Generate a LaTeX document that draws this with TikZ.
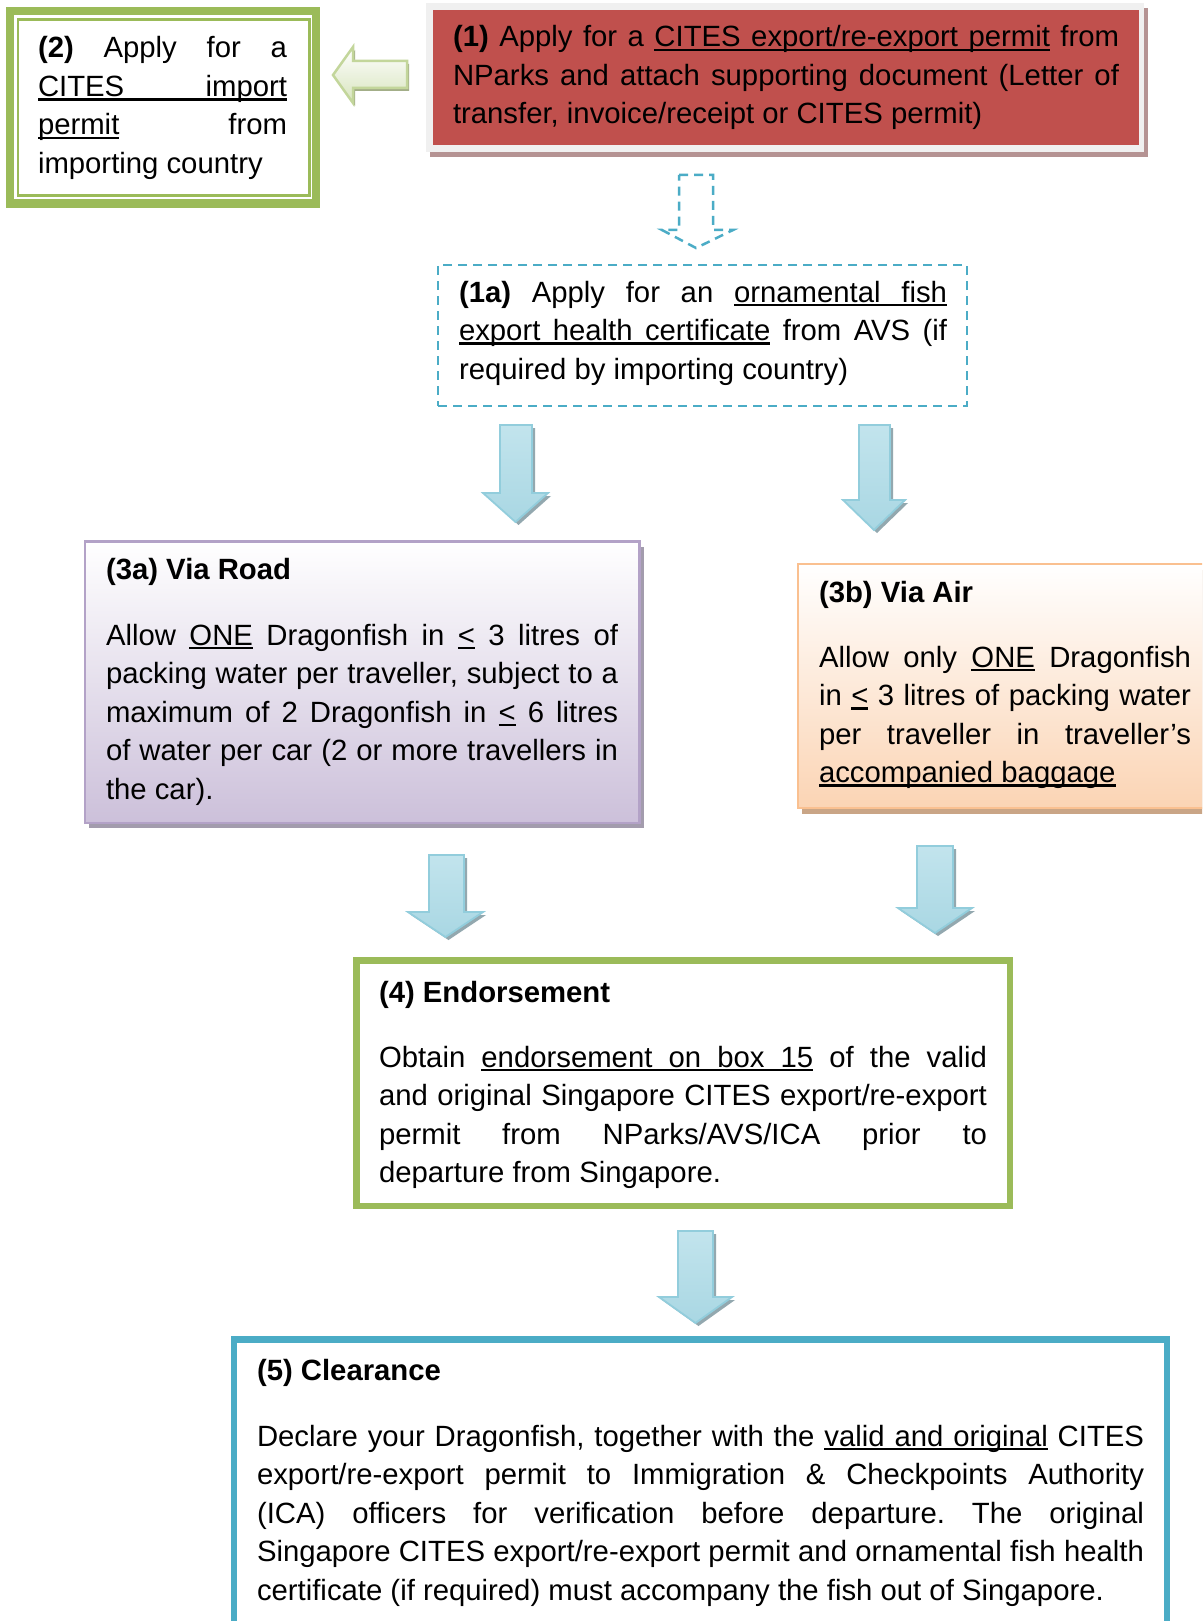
\documentclass[tikz,border=0pt]{standalone}
\usepackage{fontspec}
\setmainfont{Liberation Sans}
\usetikzlibrary{calc,shadows}
\definecolor{redfill}{HTML}{C0504D}
\definecolor{redframe}{HTML}{F0F0F0}
\definecolor{redshadow}{HTML}{B59393}
\definecolor{cyanline}{HTML}{4BACC6}
\definecolor{greenline}{HTML}{9BBB59}
\definecolor{purpline}{HTML}{B3A2C7}
\definecolor{purpfill}{HTML}{CCC0DA}
\definecolor{purpshadow}{HTML}{A39CAD}
\definecolor{orline}{HTML}{FAC090}
\definecolor{orfill}{HTML}{FBD4B4}
\definecolor{orshadow}{HTML}{C9A586}
\definecolor{arrline}{HTML}{92CDDC}
\definecolor{arrA}{HTML}{C2E4ED}
\definecolor{arrB}{HTML}{E2F2F6}
\definecolor{arrC}{HTML}{A9D7E3}
\definecolor{arrshadow}{HTML}{93A8AF}
\definecolor{garrline}{HTML}{C3D69B}
\definecolor{garrfill}{HTML}{D7E4BD}
\definecolor{garrshadow}{HTML}{A3AE88}
\newsavebox{\ulbox}
\newcommand{\ULw}[1]{\sbox{\ulbox}{#1}\rlap{\rule[-4.3pt]{\wd\ulbox}{2.5pt}}\usebox{\ulbox}}
\newcommand{\ULs}{\leaders\hrule height -1.8pt depth 4.3pt\hskip\fontdimen2\font plus\fontdimen3\font minus\fontdimen4\font\relax}
\newcommand{\JLn}[1]{\hbox to \linewidth{#1}}
\newcommand{\LLn}[1]{\hbox{#1}}
\newcommand{\BodyFont}{\fontsize{29.3}{38.5}\selectfont\frenchspacing}
\newcommand{\TBox}[2]{\begin{minipage}[t]{#1}\BodyFont #2\end{minipage}}
\newcommand{\blkarrow}[8]{% name sl sr top headbase headleft headright tipy
  \pgfmathsetmacro{\myTipX}{(#6+#7)/2}
  \fill[arrshadow, shift={(3pt,-3pt)}] (#2,#4) -- (#3,#4) -- (#3,#5) -- (#7,#5) -- (\myTipX,#8) -- (#6,#5) -- (#2,#5) -- cycle;
  \path[blockarrow] (#2,#4) -- (#3,#4) -- (#3,#5) -- (#7,#5) -- (\myTipX,#8) -- (#6,#5) -- (#2,#5) -- cycle;
  \coordinate (#1) at (\myTipX,#8);
}
\tikzset{
  txt/.style={inner sep=0pt, outer sep=0pt, anchor=base west, text=black},
  boxbase/.style={inner sep=0pt, outer sep=0pt, anchor=north west},
  blockarrow/.style={draw=arrline, line width=1.8pt, line join=miter, left color=arrA, middle color=arrB, right color=arrC, shading angle=0},
  dashline/.style={draw=cyanline, line width=2.5pt, dash pattern=on 9pt off 6pt}
}
\begin{document}
\begin{tikzpicture}[x=1pt, y=-1pt]
\useasboundingbox (0,0) rectangle (1202,1621);
\fill[white] (0,0) rectangle (1202,1621);
\clip (0,0) rectangle (1202,1621);

% ---- Box (2)
\node[boxbase, draw=greenline, line width=8.5pt, fill=white, minimum width=306pt, minimum height=192.5pt] (b2) at (10,11) {};
\draw[greenline, line width=2.5pt] ($(b2.north west)+(8pt,-8.5pt)$) rectangle ($(b2.south east)+(-6.5pt,8pt)$);
\node[txt] (t2) at (38,58) {\TBox{249pt}{%
\JLn{\textbf{(2)} Apply for a}
\JLn{\rlap{\rule[-4.3pt]{249pt}{2.5pt}}CITES import}
\JLn{\ULw{permit} from}
\LLn{importing country}}};

% ---- Left arrow
\fill[garrshadow, shift={(2pt,-3pt)}] (333,75) -- (353,47) -- (353,61) -- (407,61) -- (407,88) -- (353,88) -- (353,103) -- cycle;
\path[draw=garrline, line width=2.5pt, line join=miter, top color=white, bottom color=garrfill] (333,75) -- (353,47) -- (353,61) -- (407,61) -- (407,88) -- (353,88) -- (353,103) -- cycle;

% ---- Box (1)
\node[boxbase, fill=redframe, minimum width=718pt, minimum height=149pt, drop shadow={shadow xshift=4pt, shadow yshift=-5pt, fill=redshadow, opacity=1}] (b1f) at (426,3) {};
\node[boxbase, fill=redfill, minimum width=706pt, minimum height=135pt] (b1) at (433,10) {};
\node[txt] (t1) at (453,47) {\TBox{666pt}{%
\JLn{\textbf{(1)} Apply for a \ULw{CITES}\ULs\ULw{export/re-export}\ULs\ULw{permit} from}
\JLn{NParks and attach supporting document (Letter of}
\LLn{transfer, invoice/receipt or CITES permit)}}};

% ---- Dashed arrow
\path[dashline, fill=white] (679,175) -- (713,175) -- (713,230) -- (733,230) -- (696,248) -- (662,230) -- (679,230) -- cycle;

% ---- Box (1a)
\node[boxbase, dashline, minimum width=529pt, minimum height=141pt] (b1a) at (438,265) {};
\node[txt] (t1a) at (459,302) {\TBox{488pt}{%
\JLn{\textbf{(1a)} Apply for an \ULw{ornamental}\ULs\ULw{fish}}
\JLn{\ULw{export}\ULs\ULw{health}\ULs\ULw{certificate} from AVS (if}
\LLn{required by importing country)}}};

% ---- Arrows to 3a / 3b
\blkarrow{aA}{500}{532}{425}{493}{483}{548}{522}
\blkarrow{aB}{859}{890}{425}{500}{843}{905}{530}

% ---- Box (3a)
\node[boxbase, draw=purpline, line width=2.2pt, top color=white, bottom color=purpfill, minimum width=554.5pt, minimum height=281.5pt, drop shadow={shadow xshift=4pt, shadow yshift=-5pt, fill=purpshadow, opacity=1}] (b3a) at (85,541.5) {};
\node[txt] (t3a) at (106,579) {\TBox{512pt}{%
\LLn{\textbf{(3a) Via Road}}
\vspace{27.5pt}
\JLn{Allow \ULw{ONE} Dragonfish in \ULw{<} 3 litres of}
\JLn{packing water per traveller, subject to a}
\JLn{maximum of 2 Dragonfish in \ULw{<} 6 litres}
\JLn{of water per car (2 or more travellers in}
\LLn{the car).}}};

% ---- Box (3b)
\node[boxbase, draw=orline, line width=2.5pt, top color=white, bottom color=orfill, minimum width=470pt, minimum height=244pt, drop shadow={shadow xshift=4pt, shadow yshift=-6pt, fill=orshadow, opacity=1}] (b3b) at (798,564) {};
\node[txt] (t3b) at (819,602) {\TBox{372pt}{%
\LLn{\textbf{(3b) Via Air}}
\vspace{26.5pt}
\JLn{Allow only \ULw{ONE} Dragonfish}
\JLn{in \ULw{<} 3 litres of packing water}
\JLn{per traveller in traveller’s}
\LLn{\ULw{accompanied}\ULs\ULw{baggage}}}};

% ---- Arrows to 4
\blkarrow{aC}{429}{464}{855}{912}{408}{483}{937}
\blkarrow{aD}{917}{953}{846}{908}{898}{972}{933}

% ---- Box (4)
\node[boxbase, draw=greenline, line width=6.5pt, fill=white, minimum width=653.5pt, minimum height=245.5pt] (b4) at (356.5,960.5) {};
\node[txt] (t4) at (379,1002) {\TBox{608pt}{%
\LLn{\textbf{(4) Endorsement}}
\vspace{26.5pt}
\JLn{Obtain \ULw{endorsement}\ULs\ULw{on}\ULs\ULw{box}\ULs\ULw{15} of the valid}
\JLn{and original Singapore CITES export/re-export}
\JLn{permit from NParks/AVS/ICA prior to}
\LLn{departure from Singapore.}}};

% ---- Arrow to 5
\blkarrow{aE}{678}{713}{1231}{1297}{659}{732}{1323}

% ---- Box (5)
\node[boxbase, draw=cyanline, line width=6.5pt, fill=white, minimum width=933pt, minimum height=400pt] (b5) at (234,1339.5) {};
\node[txt] (t5) at (257,1380) {\TBox{887pt}{%
\LLn{\textbf{(5) Clearance}}
\vspace{27.5pt}
\JLn{Declare your Dragonfish, together with the \ULw{valid}\ULs\ULw{and}\ULs\ULw{original} CITES}
\JLn{export/re-export permit to Immigration \& Checkpoints Authority}
\JLn{(ICA) officers for verification before departure. The original}
\JLn{Singapore CITES export/re-export permit and ornamental fish health}
\LLn{certificate (if required) must accompany the fish out of Singapore.}}};
\end{tikzpicture}
\end{document}
